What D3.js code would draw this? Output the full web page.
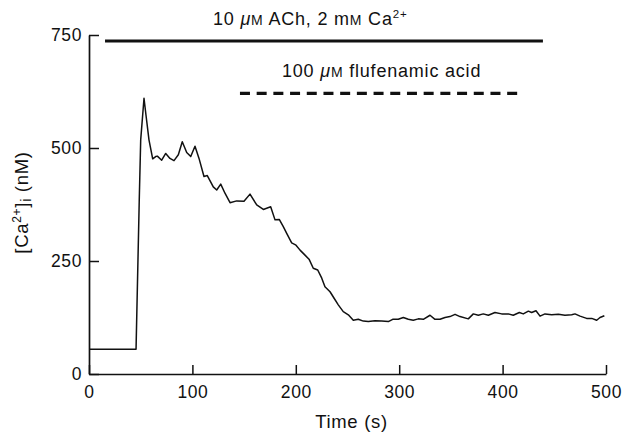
<!DOCTYPE html>
<html lang="en">
<meta charset="utf-8">
<title>Calcium trace</title>
<style>
    body { margin: 0; background: white; }
    svg  { display: block; }
    text { font-family: "Liberation Sans", Arial, sans-serif; fill: #111; }
</style>
<body>
<svg id="canvas"></svg>
<script src="https://d3js.org/d3.v7.min.js"></script>
<script>

    ///////////////////// Data ////////////////////////
    // time (s) and [Ca2+]i (nM)
    var time_s = [0, 45, 45.5, 48.6, 50.0, 53.2, 55.1, 58.0, 61.6, 64.5, 66.1, 70.3, 74.2, 78.3,
                  82.2, 86.4, 90.2, 94.5, 98.4, 102.5, 106.4, 111.2, 114.4, 120.2, 123.5, 127.4,
                  131.5, 136.4, 142.8, 149.9, 155.7, 162.2, 168.6, 175.7, 179.9, 184.0, 187.9,
                  191.2, 196.0, 200.2, 204.1, 208.9, 212.8, 216.9, 221.2, 225.1, 228.2, 233.1,
                  237.2, 241.1, 245.9, 250.8, 255.6, 260.4, 265.3, 270.1, 276.6, 283.1, 289.5,
                  293.7, 299.1, 304.0, 308.8, 313.6, 318.5, 323.3, 329.8, 334.6, 339.5, 344.3,
                  349.1, 354.0, 358.8, 366.8, 371.7, 376.5, 381.3, 386.2, 392.6, 399.1, 405.5,
                  410.3, 416.2, 420.0, 424.9, 428.1, 432.3, 436.2, 441.0, 447.5, 453.9, 460.3,
                  466.8, 470.0, 474.9, 481.3, 486.2, 491.0, 494.2, 498.4];
    var ca_nM  = [55, 55, 55, 385, 518, 610, 573, 518, 476, 481, 482, 473, 488, 477,
                  472, 485, 514, 490, 481, 504, 477, 437, 439, 414, 407, 420,
                  400, 379, 383, 382, 398, 374, 364, 370, 341, 342, 326,
                  311, 290, 285, 274, 263, 254, 234, 230, 212, 193, 182,
                  167, 153, 138, 131, 119, 121, 117, 116, 118, 117, 116,
                  121, 121, 125, 121, 119, 122, 121, 130, 121, 121, 125,
                  127, 132, 127, 122, 133, 130, 133, 130, 136, 133, 133,
                  130, 136, 133, 139, 136, 140, 128, 133, 131, 132, 130,
                  131, 133, 128, 123, 123, 119, 125, 129];

    // application bars: [start s, end s] and height (nM)
    var ach_span   = [15.5, 439];
    var ach_level  = 737;
    var flu_span   = [146, 416];
    var flu_level  = 621;

    var x_ticks    = [0, 100, 200, 300, 400, 500];
    var y_ticks    = [0, 250, 500, 750];
    ///////////////////////////////////////////////////

    ///////// Position and Dimension Variables ////////
    var dimensions = [625, 432];
    var plot_left  = 89;
    var plot_right = 606;
    var plot_top   = 35;
    var plot_bot   = 374;
    ///////////////////////////////////////////////////

    var canvas = d3.select("#canvas")
        .attr('width',  dimensions[0])
        .attr('height', dimensions[1]);

    var x = d3.scaleLinear().domain([0, 500]).range([plot_left, plot_right]);
    var y = d3.scaleLinear().domain([0, 750]).range([plot_bot, plot_top]);

    ////////////////////// axes ///////////////////////
    var x_axis = canvas.append("g")
        .attr('transform', 'translate(0,' + plot_bot + ')')
        .call(d3.axisBottom(x).tickValues(x_ticks).tickSizeInner(-9)
                .tickSizeOuter(0).tickPadding(12));
    var y_axis = canvas.append("g")
        .attr('transform', 'translate(' + plot_left + ',0)')
        .call(d3.axisLeft(y).tickValues(y_ticks).tickSizeInner(-10)
                .tickSizeOuter(0).tickPadding(7));

    canvas.selectAll(".domain").attr('stroke', '#111').attr('stroke-width', 1.7);
    canvas.selectAll(".tick line").attr('stroke', '#111').attr('stroke-width', 1.5);
    canvas.selectAll(".tick text")
        .style('font-family', '"Liberation Sans", Arial, sans-serif')
        .style('letter-spacing', '0.6px')
        .attr('font-size', 17.5).attr('fill', '#111');

    canvas.append("text")
        .attr('x', (plot_left + plot_right) / 2 + 4)
        .attr('y', 428)
        .attr('text-anchor', 'middle')
        .attr('font-size', 18.5)
        .style('letter-spacing', '0.7px')
        .text("Time (s)");

    var ylab = canvas.append("text")
        .attr('transform', 'translate(28,' + ((plot_top + plot_bot) / 2 - 2) + ') rotate(-90)')
        .attr('text-anchor', 'middle')
        .attr('font-size', 18.5)
        .style('letter-spacing', '0.7px');
    ylab.append("tspan").text("[Ca");
    ylab.append("tspan").attr('font-size', 12).attr('dy', -7).text("2+");
    ylab.append("tspan").attr('dy', 7).text("]");
    ylab.append("tspan").attr('font-size', 14).attr('dy', 3).text("i");
    ylab.append("tspan").attr('dy', -3).text(" (nM)");
    ///////////////////////////////////////////////////

    ////////////////////// trace //////////////////////
    var pts = time_s.map(function (t, i) { return [t, ca_nM[i]]; });
    var line = d3.line().x(function (d) { return x(d[0]); })
                        .y(function (d) { return y(d[1]); });
    canvas.append("path")
        .attr('d', line(pts))
        .attr('fill', 'none')
        .attr('stroke', '#111')
        .attr('stroke-width', 1.5)
        .attr('stroke-linejoin', 'round');
    ///////////////////////////////////////////////////

    ////////////// application bars ///////////////////
    canvas.append("line")
        .attr('x1', x(ach_span[0])).attr('x2', x(ach_span[1]))
        .attr('y1', y(ach_level)).attr('y2', y(ach_level))
        .attr('stroke', '#111').attr('stroke-width', 3);
    canvas.append("line")
        .attr('x1', x(flu_span[0])).attr('x2', x(flu_span[1]))
        .attr('y1', y(flu_level)).attr('y2', y(flu_level))
        .attr('stroke', '#111').attr('stroke-width', 3.2)
        .attr('stroke-dasharray', '10,6.7');

    var ach_txt = canvas.append("text")
        .attr('x', 213).attr('y', 25)
        .attr('font-size', 18)
        .style('letter-spacing', '0.8px');
    ach_txt.append("tspan").text("10 ");
    ach_txt.append("tspan").attr('font-style', 'italic').text("μ");
    ach_txt.append("tspan").attr('font-size', 14).text("M");
    ach_txt.append("tspan").text(" ACh, 2 m");
    ach_txt.append("tspan").attr('font-size', 14).text("M");
    ach_txt.append("tspan").text(" Ca");
    ach_txt.append("tspan").attr('font-size', 11.5).attr('dy', -7).text("2+");

    var flu_txt = canvas.append("text")
        .attr('x', 282).attr('y', 77)
        .attr('font-size', 18)
        .style('letter-spacing', '0.8px');
    flu_txt.append("tspan").text("100 ");
    flu_txt.append("tspan").attr('font-style', 'italic').text("μ");
    flu_txt.append("tspan").attr('font-size', 14).text("M");
    flu_txt.append("tspan").text(" flufenamic acid");
    ///////////////////////////////////////////////////

</script>
</body>
</html>
